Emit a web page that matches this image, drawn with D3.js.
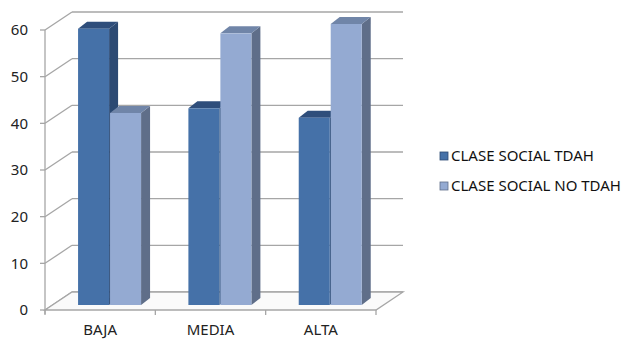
<!DOCTYPE html>
<html><head><meta charset="utf-8">
<script src="https://cdn.jsdelivr.net/npm/d3@7"></script>
<style>body{margin:0;background:#fff}svg{display:block}</style>
</head><body>
<svg id="c" width="627" height="340"></svg>
<script>
const categories = ["BAJA", "MEDIA", "ALTA"];
const seriesNames = ["CLASE SOCIAL TDAH", "CLASE SOCIAL NO TDAH"];
const tdah = [59, 42, 40];
const noTdah = [41, 58, 60];
const yTicks = [0, 10, 20, 30, 40, 50, 60];

const svg = d3.select("#c");
const font = "'Noto Sans', 'Open Sans', sans-serif";
const DX = 27, DY = -18;          // depth of the plot box
const bdx = 9, bdy = -7;          // depth of each bar
const x = d3.scaleBand().domain(categories).range([45, 376]).paddingInner(0).paddingOuter(0);
const yFront = d3.scaleLinear().domain([0, 60]).range([310, 30]);
const yBar = d3.scaleLinear().domain([0, 60]).range([305, 24]);
const grid = "#a6a6a6";

const g = svg.append("g");
yTicks.forEach(t => {
  const yf = yFront(t), yb = yf + DY;
  g.append("line").attr("x1", 45).attr("y1", yf).attr("x2", 45 + DX).attr("y2", yb)
    .attr("stroke", grid).attr("stroke-width", 1.3);
  g.append("line").attr("x1", 45 + DX).attr("y1", yb).attr("x2", 376 + DX).attr("y2", yb)
    .attr("stroke", grid).attr("stroke-width", 1.3);
});
g.append("path")
  .attr("d", `M45,310 L376,310 L${376+DX},${310+DY} L${45+DX},${310+DY} Z`)
  .attr("fill", "#fafafa").attr("stroke", grid).attr("stroke-width", 1.3);

g.append("line").attr("x1", 45).attr("x2", 45).attr("y1", yFront(60)).attr("y2", 314)
  .attr("stroke", grid).attr("stroke-width", 1.3);
yTicks.forEach(t => {
  g.append("line").attr("x1", 40).attr("x2", 45).attr("y1", yFront(t)).attr("y2", yFront(t))
    .attr("stroke", grid).attr("stroke-width", 1.3);
  g.append("text").attr("x", 28).attr("y", yFront(t)).attr("dy", "0.36em")
    .attr("text-anchor", "end").attr("font-family", font).attr("font-size", 15)
    .attr("fill", "#222").text(t);
});
const xt = categories.map(c => x(c)).concat([376]);
xt.forEach(v => {
  g.append("line").attr("x1", v).attr("x2", v).attr("y1", 310).attr("y2", 315)
    .attr("stroke", grid).attr("stroke-width", 1.3);
});
categories.forEach(c => {
  g.append("text").attr("x", x(c) + x.bandwidth() / 2).attr("y", 335)
    .attr("text-anchor", "middle").attr("font-family", font).attr("font-size", 15)
    .attr("fill", "#222").text(c);
});

const inner = d3.scaleBand().domain([0, 1]).range([0, x.bandwidth()]).paddingInner(0.03).paddingOuter(0.74);
const styles = [
  {front: "#4571a8", top: "#2f4e7b", side: "#2c4a73"},
  {front: "#94aad2", top: "#7085a8", side: "#5f6e89"}
];
const data = [tdah, noTdah];
const bars = svg.append("g");
categories.forEach((c, i) => {
  [0, 1].forEach(s => {
    const v = data[s][i];
    const x0 = x(c) + inner(s) + 9.4, w = inner.bandwidth();
    const yt = yBar(v), yb = yBar(0);
    const st = styles[s];
    bars.append("path")
      .attr("d", `M${x0+w},${yt} L${x0+w+bdx},${yt+bdy} L${x0+w+bdx},${yb+bdy} L${x0+w},${yb} Z`)
      .attr("fill", st.side);
    bars.append("path")
      .attr("d", `M${x0},${yt} L${x0+bdx},${yt+bdy} L${x0+w+bdx},${yt+bdy} L${x0+w},${yt} Z`)
      .attr("fill", st.top);
    bars.append("rect").attr("x", x0).attr("y", yt).attr("width", w).attr("height", yb - yt)
      .attr("fill", st.front);
  });
});

const leg = svg.append("g");
seriesNames.forEach((n, i) => {
  const ly = 156 + i * 30;
  leg.append("rect").attr("x", 440).attr("y", ly - 4).attr("width", 8).attr("height", 8)
    .attr("fill", styles[i].front).attr("stroke", styles[i].side).attr("stroke-width", 0.8);
  leg.append("text").attr("x", 451).attr("y", ly).attr("dy", "0.36em")
    .attr("font-family", font).attr("font-size", 15).attr("fill", "#111").text(n);
});
</script>
</body></html>
